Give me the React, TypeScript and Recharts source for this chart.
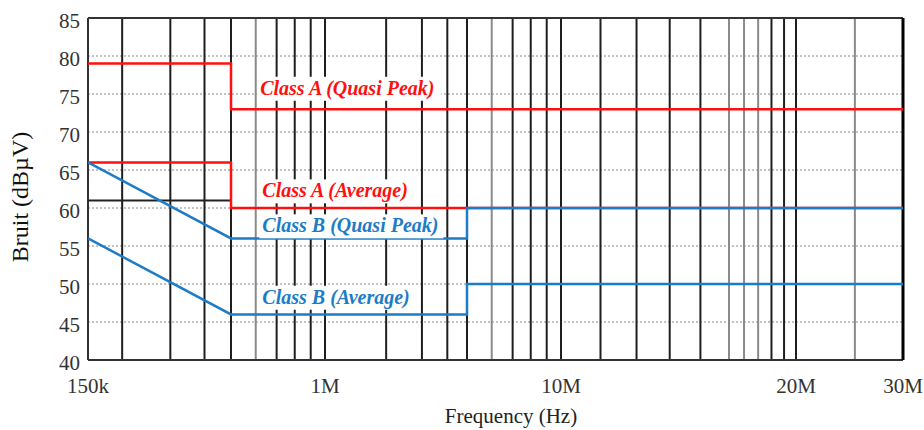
import { LineChart, Line, XAxis, YAxis, CartesianGrid, ReferenceLine, ReferenceDot } from "recharts";

// axis ticks
const xTicks = [150e3, 1e6, 10e6, 20e6, 30e6];
const xTickLabels = ["150k", "1M", "10M", "20M", "30M"];
const yTicks = [40, 45, 50, 55, 60, 65, 70, 75, 80, 85];

// vertical grid (frequencies)
const gridFreqs = [
  200e3, 300e3, 400e3, 500e3, 600e3, 700e3, 800e3, 900e3, 1e6,
  2e6, 3e6, 4e6, 5e6, 6e6, 7e6, 8e6, 9e6, 10e6,
  11e6, 12e6, 13e6, 14e6, 15e6, 16e6, 17e6, 18e6, 19e6, 20e6, 25e6,
];
const grayGridFreqs = [600e3, 6e6, 15e6, 16e6, 17e6, 25e6];

// limit lines
const classAQpFreq = [150e3, 500e3, 500e3, 30e6];
const classAQpLevel = [79, 79, 73, 73];
const classAAvgFreq = [150e3, 500e3, 500e3, 30e6];
const classAAvgLevel = [66, 66, 60, 60];
const classBQpFreq = [150e3, 500e3, 5e6, 5e6, 30e6];
const classBQpLevel = [66, 56, 56, 60, 60];
const classBAvgFreq = [150e3, 500e3, 5e6, 5e6, 30e6];
const classBAvgLevel = [56, 46, 46, 50, 50];
const blackFreq = [150e3, 500e3];
const blackLevel = [61, 61];

// curve labels
const labelText = ["Class A (Quasi Peak)", "Class A (Average)", "Class B (Quasi Peak)", "Class B (Average)"];
const labelFreq = [620e3, 630e3, 630e3, 630e3];
const labelLevel = [74.9, 61.4, 56.8, 47.4];

const RED = "#ff1010";
const BLUE = "#1c7cc8";
const labelColor = [RED, RED, BLUE, BLUE];
const FONT = "Liberation Serif, DejaVu Serif, serif";

// the frequency axis of the original is not a clean log scale, so it is
// piecewise log between these knots
const knotFreq = [150e3, 500e3, 1e6, 5e6, 10e6, 15e6, 20e6, 30e6];
const knotPos = [0, 143, 237, 379, 473, 641, 708, 815].map((p) => p / 815);

function warpScale(): any {
  let dom = [knotFreq[0], knotFreq[knotFreq.length - 1]];
  let rng = [0, 1];
  const lk = knotFreq.map((f) => Math.log10(f));
  const s: any = (v: number) => {
    const lv = Math.log10(v);
    let i = 0;
    while (i < lk.length - 2 && lv > lk[i + 1]) i++;
    const t = knotPos[i] + ((lv - lk[i]) / (lk[i + 1] - lk[i])) * (knotPos[i + 1] - knotPos[i]);
    return rng[0] + t * (rng[1] - rng[0]);
  };
  s.domain = (d?: number[]) => {
    if (d === undefined) return dom.slice();
    dom = d.slice();
    return s;
  };
  s.range = (r?: number[]) => {
    if (r === undefined) return rng.slice();
    rng = r.slice();
    return s;
  };
  s.copy = () => warpScale().domain(dom).range(rng);
  s.ticks = () => xTicks.slice();
  s.tickFormat = () => (v: number) => String(v);
  return s;
}

const toPoints = (fs: number[], vs: number[]) => fs.map((f, i) => ({ f, v: vs[i] }));

const series = [
  { name: "blk", data: toPoints(blackFreq, blackLevel), color: "#222" },
  { name: "aqp", data: toPoints(classAQpFreq, classAQpLevel), color: RED },
  { name: "aavg", data: toPoints(classAAvgFreq, classAAvgLevel), color: RED },
  { name: "bqp", data: toPoints(classBQpFreq, classBQpLevel), color: BLUE },
  { name: "bavg", data: toPoints(classBAvgFreq, classBAvgLevel), color: BLUE },
];

const XTick = (props: any) => {
  const { x, y, payload } = props;
  const idx = xTicks.indexOf(payload.value);
  return (
    <text x={x} y={y + 25} textAnchor="middle" style={{ fontFamily: FONT, fontSize: 21 }} fill="#333">
      {xTickLabels[idx]}
    </text>
  );
};

const YTick = (props: any) => {
  const { x, y, payload } = props;
  return (
    <text x={x} y={y + 10} textAnchor="end" style={{ fontFamily: FONT, fontSize: 21 }} fill="#333">
      {payload.value}
    </text>
  );
};

const LabelBox = (props: any) => {
  const { viewBox, w } = props;
  return <rect x={viewBox.x - 3} y={viewBox.y - 18} width={w} height={24} fill="#fff" />;
};

const LabelTxt = (props: any) => {
  const { viewBox, text, color } = props;
  return (
    <text
      x={viewBox.x}
      y={viewBox.y}
      style={{ fontFamily: FONT, fontSize: 20, fontWeight: "bold", fontStyle: "italic" }}
      fill={color}
    >
      {text}
    </text>
  );
};

export default function App() {
  return (
    <div style={{ position: "absolute", left: 0, top: 0, width: 924, height: 430, background: "#fff" }}>
      <LineChart width={924} height={430} margin={{ top: 18, right: 21, left: 0, bottom: 0 }}>
        <XAxis
          dataKey="f"
          type="number"
          scale={warpScale()}
          domain={[150e3, 30e6]}
          ticks={xTicks}
          interval={0}
          allowDataOverflow
          height={70}
          axisLine={false}
          tickLine={false}
          tick={<XTick />}
          label={{
            content: () => (
              <text x={511} y={423} textAnchor="middle" style={{ fontFamily: FONT, fontSize: 21 }} fill="#222">
                Frequency (Hz)
              </text>
            ),
          }}
        />
        <YAxis
          type="number"
          domain={[40, 85]}
          ticks={yTicks}
          interval={0}
          width={88}
          axisLine={false}
          tickLine={false}
          tick={<YTick />}
          label={{
            content: () => (
              <text
                transform="translate(28,197) rotate(-90)"
                textAnchor="middle"
                style={{ fontFamily: FONT, fontSize: 24 }}
                fill="#111"
              >
                Bruit (dBµV)
              </text>
            ),
          }}
        />
        <CartesianGrid vertical={false} stroke="#888" strokeDasharray="2 2" />
        {labelText.map((t, i) => (
          <ReferenceDot
            key={"box" + i}
            x={labelFreq[i]}
            y={labelLevel[i]}
            r={0}
            stroke="none"
            fill="none"
            label={{ content: (p: any) => <LabelBox {...p} w={t.length > 18 ? 184 : 156} /> }}
          />
        ))}
        {gridFreqs.map((f) => (
          <ReferenceLine
            key={f}
            x={f}
            stroke={grayGridFreqs.includes(f) ? "#8a8a8a" : "#1e1e1e"}
            strokeWidth={2}
          />
        ))}
        <ReferenceLine y={85} stroke="#333" strokeWidth={2} />
        <ReferenceLine y={40} stroke="#333" strokeWidth={2} />
        <ReferenceLine x={150e3} stroke="#333" strokeWidth={2} />
        <ReferenceLine x={30e6} stroke="#000" strokeWidth={3} />
        {series.map((s) => (
          <Line
            key={s.name}
            data={s.data}
            dataKey="v"
            type="linear"
            stroke={s.color}
            strokeWidth={s.name === "blk" ? 2 : 2.5}
            dot={false}
            activeDot={false}
            isAnimationActive={false}
          />
        ))}
        {labelText.map((t, i) => (
          <ReferenceDot
            key={"lbl" + i}
            x={labelFreq[i]}
            y={labelLevel[i]}
            r={0}
            stroke="none"
            fill="none"
            label={{ content: (p: any) => <LabelTxt {...p} text={t} color={labelColor[i]} /> }}
          />
        ))}
      </LineChart>
    </div>
  );
}
